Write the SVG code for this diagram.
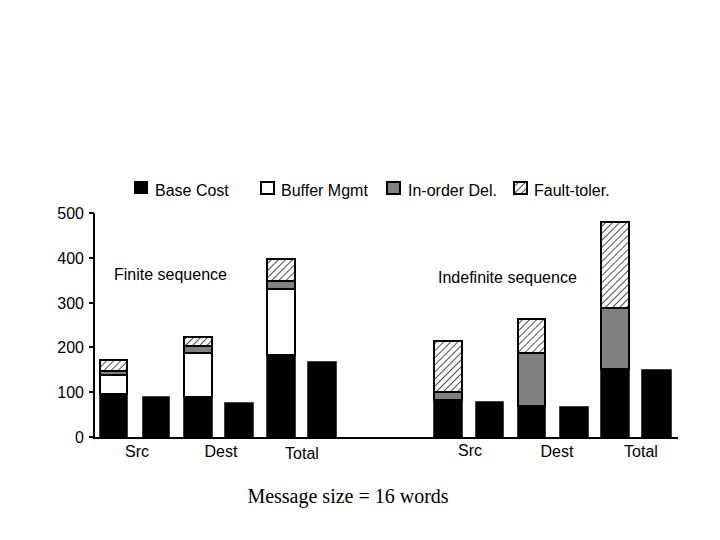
<svg xmlns="http://www.w3.org/2000/svg" width="720" height="540" viewBox="0 0 720 540">
<defs>
<pattern id="h" width="5" height="5" patternUnits="userSpaceOnUse" patternTransform="rotate(45)">
<rect width="5" height="5" fill="#fff"/><line x1="0" y1="0" x2="0" y2="5" stroke="#222" stroke-width="1.6"/>
</pattern>
<style>
.t{font-family:"Liberation Sans",Arial,sans-serif;font-size:16px;fill:#000}
.b{fill:#000;stroke:#000;stroke-width:1.5}
.w{fill:#fff;stroke:#000;stroke-width:2}
.g{fill:#808080;stroke:#000;stroke-width:2}
.f{fill:url(#h);stroke:#000;stroke-width:2}
.ax{stroke:#000;stroke-width:2;fill:none}
</style>
</defs>
<rect width="720" height="540" fill="#fff"/>
<g id="legend">
<rect x="134" y="181" width="14" height="13" fill="#000"/><text class="t" x="155" y="196">Base Cost</text>
<rect x="261" y="182" width="13" height="12" class="w"/><text class="t" x="281" y="196">Buffer Mgmt</text>
<rect x="387" y="182" width="13" height="12" class="g"/><text class="t" x="408" y="196">In-order Del.</text>
<rect x="514" y="182" width="13" height="12" class="f"/><text class="t" x="534" y="196">Fault-toler.</text>
</g>
<g id="axes">
<path class="ax" d="M94,213 V438 H678"/>
<path class="ax" d="M89,213H94M89,258H94M89,303H94M89,347H94M89,392H94M89,437H94"/>
<g class="t" text-anchor="end">
<text x="84" y="219">500</text><text x="84" y="264">400</text><text x="84" y="309">300</text>
<text x="84" y="353">200</text><text x="84" y="398">100</text><text x="84" y="443">0</text>
</g>
</g>
<g id="finite">
<rect class="b" x="100" y="394" width="27" height="44"/>
<rect class="w" x="100" y="375" width="27" height="19"/>
<rect class="g" x="100" y="371" width="27" height="4"/>
<rect class="f" x="100" y="360" width="27" height="11"/>
<rect class="b" x="143" y="397" width="26" height="41"/>
<rect class="b" x="184" y="397" width="28" height="41"/>
<rect class="w" x="184" y="353" width="28" height="44"/>
<rect class="g" x="184" y="346" width="28" height="7"/>
<rect class="f" x="184" y="337" width="28" height="9"/>
<rect class="b" x="225" y="403" width="28" height="35"/>
<rect class="b" x="267" y="355" width="28" height="83"/>
<rect class="w" x="267" y="289" width="28" height="66"/>
<rect class="g" x="267" y="281" width="28" height="8"/>
<rect class="f" x="267" y="259" width="28" height="22"/>
<rect class="b" x="308" y="362" width="28" height="76"/>
<text class="t" x="114" y="280">Finite sequence</text>
</g>
<g id="indefinite">
<rect class="b" x="434" y="400" width="28" height="38"/>
<rect class="g" x="434" y="392" width="28" height="8"/>
<rect class="f" x="434" y="341" width="28" height="51"/>
<rect class="b" x="476" y="402" width="27" height="36"/>
<rect class="b" x="518" y="406" width="27" height="32"/>
<rect class="g" x="518" y="353" width="27" height="53"/>
<rect class="f" x="518" y="319" width="27" height="34"/>
<rect class="b" x="560" y="407" width="28" height="31"/>
<rect class="b" x="601" y="369" width="28" height="69"/>
<rect class="g" x="601" y="308" width="28" height="61"/>
<rect class="f" x="601" y="222" width="28" height="86"/>
<rect class="b" x="642" y="370" width="29" height="68"/>
<text class="t" x="438" y="283">Indefinite sequence</text>
</g>
<g id="xlabels" class="t" text-anchor="middle">
<text x="137" y="457">Src</text><text x="221" y="457">Dest</text><text x="302" y="459">Total</text>
<text x="470" y="456">Src</text><text x="557" y="457">Dest</text><text x="641" y="457">Total</text>
</g>
<text x="348" y="503" text-anchor="middle" style="font-family:'Liberation Serif','Times New Roman',serif;font-size:20px">Message size = 16 words</text>
</svg>
